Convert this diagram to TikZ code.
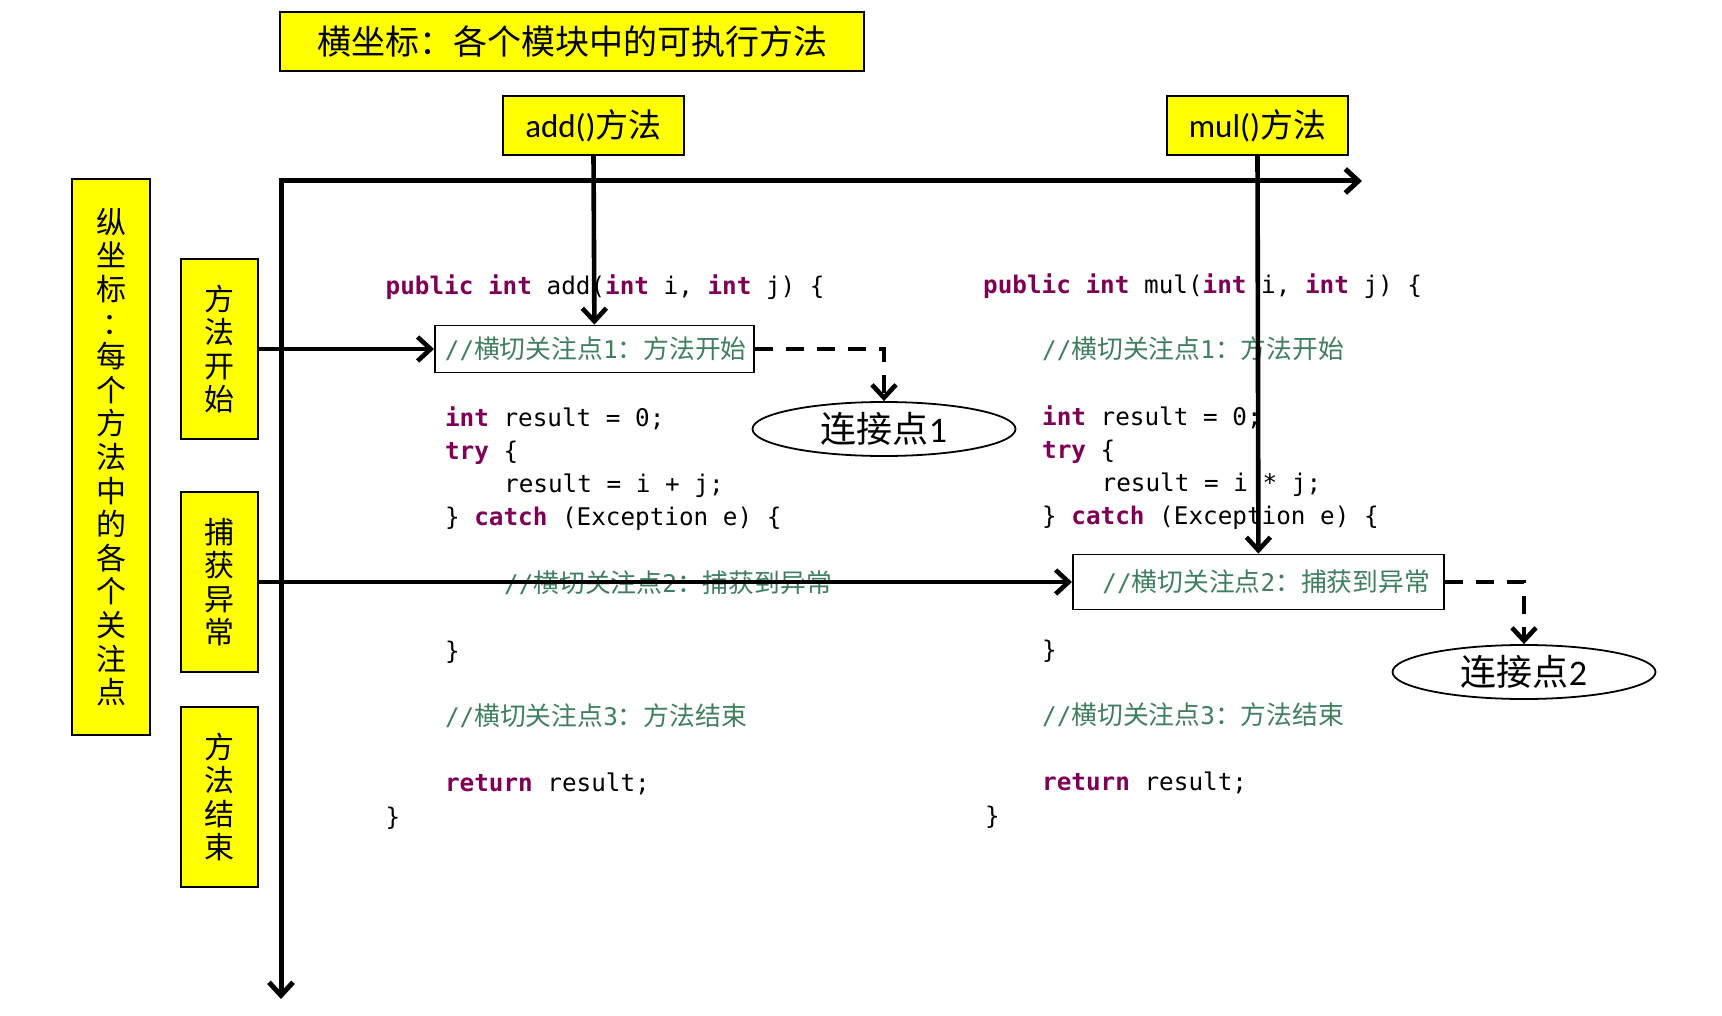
\documentclass[tikz,border=0pt]{standalone}
\usepackage{fontspec}
\setmainfont{Carlito}
\newfontfamily\cjk{Noto Sans CJK SC}
\newfontfamily\codefont{DejaVu Sans Mono}
\usetikzlibrary{arrows.meta,shapes.geometric}
\definecolor{kwc}{RGB}{127,0,85}
\definecolor{cmc}{RGB}{63,127,95}
\definecolor{yl}{RGB}{255,255,0}
\newcommand{\zh}[1]{{\cjk #1}}
\newcommand{\zc}[1]{{\cjk\fontsize{25.8}{29}\selectfont #1}}
\newcommand{\kw}[1]{\textcolor{kwc}{\bfseries #1}}
\newcommand{\cmt}[1]{\textcolor{cmc}{#1}}
\begin{document}
\begin{tikzpicture}[x=1pt,y=-1pt,
  ybox/.style={draw=black, line width=1.8pt, fill=yl, inner sep=0pt, align=center},
  vlab/.style={ybox, font=\cjk\fontsize{30}{33.6}\selectfont},
  code/.style={anchor=mid west, inner sep=0pt, font=\codefont\fontsize{24.3}{29}\selectfont},
  cbox/.style={draw=black, line width=1.8pt, anchor=west, align=left, inner ysep=0pt, font=\codefont\fontsize{24.3}{29}\selectfont},
  barb/.tip={Straight Barb[length=13pt,width=24pt]},
  axis/.style={line width=5pt, line join=miter},
  conn/.style={line width=4.6pt, -barb},
  dline/.style={line width=4.6pt, dash pattern=on 18pt off 13pt, -barb},
  oval/.style={ellipse, draw=black, line width=1.8pt, inner sep=0pt, minimum width=263pt, minimum height=54pt, font=\fontsize{36}{40}\selectfont}
]
\useasboundingbox (0,0) rectangle (1722,1016);

% code, left column
\node[code] (a1) at (385.5,292.5) {\kw{public} \kw{int} add(\kw{int} i, \kw{int} j) \{};
\node[code] (a3) at (444.8,424) {\kw{int} result = 0;};
\node[code] (a4) at (444.8,457) {\kw{try} \{};
\node[code] (a5) at (504,490) {result = i + j;};
\node[code] (a6) at (444.8,523) {\} \kw{catch} (Exception e) \{};
\node[code] (a7) at (504,590) {\cmt{//\zc{横切关注点}2\zc{：捕获到异常}}};
\node[code] (a8) at (444.8,657) {\}};
\node[code] (a9) at (444.8,723) {\cmt{//\zc{横切关注点}3\zc{：方法结束}}};
\node[code] (a10) at (444.8,789) {\kw{return} result;};
\node[code] (a11) at (385.5,823) {\}};

% code, right column
\node[code] (b1) at (983,291.5) {\kw{public} \kw{int} mul(\kw{int} i, \kw{int} j) \{};
\node[code] (b2) at (1042,356) {\cmt{//\zc{横切关注点}1\zc{：方法开始}}};
\node[code] (b3) at (1042,423) {\kw{int} result = 0;};
\node[code] (b4) at (1042,456) {\kw{try} \{};
\node[code] (b5) at (1101.5,489) {result = i * j;};
\node[code] (b6) at (1042,522) {\} \kw{catch} (Exception e) \{};
\node[code] (b8) at (1042,656) {\}};
\node[code] (b9) at (1042,722) {\cmt{//\zc{横切关注点}3\zc{：方法结束}}};
\node[code] (b10) at (1042,788) {\kw{return} result;};
\node[code] (b11) at (985,822) {\}};

% highlighted join points
\node[cbox, text width=299pt, inner xsep=10pt, minimum height=47pt] (p1) at (434,349) {\cmt{//\zc{横切关注点}1\zc{：方法开始}}};
\node[cbox, text width=312pt, inner xsep=29.5pt, minimum height=55pt] (p2) at (1072,582) {\cmt{//\zc{横切关注点}2\zc{：捕获到异常}}};

\node[oval] (e1) at (884,429) {\zh{连接点}1};
\node[oval] (e2) at (1524,672) {\zh{连接点}2};

% yellow labels
\node[ybox, minimum width=584pt, minimum height=59pt, font=\cjk\fontsize{34}{38}\selectfont] (title) at (572,41.5) {横坐标：各个模块中的可执行方法};
\node[ybox, minimum width=181pt, minimum height=59pt, font=\fontsize{33}{36}\selectfont] (add) at (593.5,125.5) {add()\zh{方法}};
\node[ybox, minimum width=181pt, minimum height=59pt, font=\fontsize{33}{36}\selectfont] (mul) at (1257.5,125.5) {mul()\zh{方法}};

\node[vlab, minimum width=78pt, minimum height=556pt] (yax) at (111,457) {纵\\坐\\标\\\kern0.45em：\\每\\个\\方\\法\\中\\的\\各\\个\\关\\注\\点};
\node[vlab, minimum width=77pt, minimum height=180pt] (l1) at (219.5,349) {方\\法\\开\\始};
\node[vlab, minimum width=77pt, minimum height=180pt] (l2) at (219.5,582) {捕\\获\\异\\常};
\node[vlab, minimum width=77pt, minimum height=180pt] (l3) at (219.5,797) {方\\法\\结\\束};

% axes
\coordinate (o) at (281,181);
\coordinate (xend) at (1362,181);
\coordinate (yend) at (281,999);
\draw[axis, barb-barb] (xend) -- (o) -- (yend);

% connectors
\draw[conn] (add.south) -- (p1.north);
\draw[conn] (mul.south) -- (p2.north);
\draw[conn] (l1.east) -- (p1.west);
\draw[conn] (l2.east) -- (p2.west);
\draw[dline] (p1.east) -| (e1.north);
\draw[dline] (p2.east) -| (e2.north);
\end{tikzpicture}
\end{document}
